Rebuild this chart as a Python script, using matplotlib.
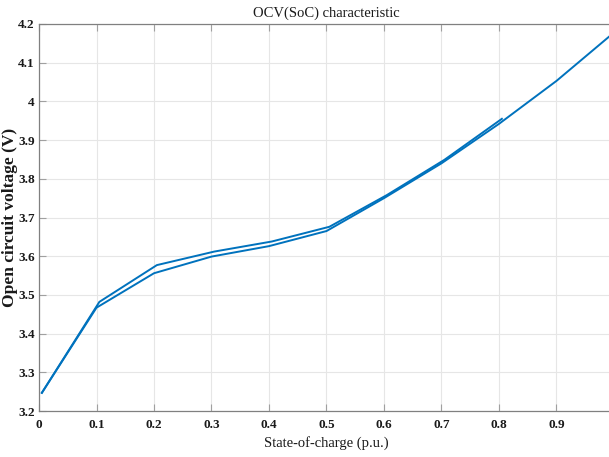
import matplotlib.pyplot as plt
import numpy as np

# Two OCV(SoC) branches
SOC_UPPER = [0.005, 0.105, 0.205, 0.305, 0.405, 0.505, 0.605, 0.705, 0.805]
OCV_UPPER = [3.247, 3.482, 3.577, 3.612, 3.638, 3.676, 3.758, 3.849, 3.955]

SOC_LOWER = [0.005, 0.1, 0.2, 0.3, 0.4, 0.5, 0.6, 0.7, 0.8, 0.9, 1.0]
OCV_LOWER = [3.247, 3.467, 3.556, 3.599, 3.626, 3.665, 3.750, 3.840, 3.942, 4.053, 4.178]

X_TICKS = [0, 0.1, 0.2, 0.3, 0.4, 0.5, 0.6, 0.7, 0.8, 0.9]
X_TICK_LABELS = ["0", "0.1", "0.2", "0.3", "0.4", "0.5", "0.6", "0.7", "0.8", "0.9"]
Y_TICKS = [3.2, 3.3, 3.4, 3.5, 3.6, 3.7, 3.8, 3.9, 4.0, 4.1, 4.2]
Y_TICK_LABELS = ["3.2", "3.3", "3.4", "3.5", "3.6", "3.7", "3.8", "3.9", "4", "4.1", "4.2"]

LINE_COLOR = "#0072BD"
FONT = "Liberation Serif"

plt.rcParams["font.family"] = FONT

fig = plt.figure(figsize=(6.09, 4.57), dpi=100)
ax = fig.add_axes([39 / 609, 46 / 457, 575 / 609, 387 / 457])

ax.plot(SOC_UPPER, OCV_UPPER, color=LINE_COLOR, linewidth=1.4)
ax.plot(SOC_LOWER, OCV_LOWER, color=LINE_COLOR, linewidth=1.4)

ax.set_xlim(0, 1)
ax.set_ylim(3.2, 4.2)

ax.set_xticks(X_TICKS)
ax.set_xticklabels(X_TICK_LABELS, fontsize=9.5, fontweight="bold")
ax.set_yticks(Y_TICKS)
ax.set_yticklabels(Y_TICK_LABELS, fontsize=9.5, fontweight="bold")

ax.tick_params(
    direction="in",
    length=5,
    width=0.8,
    color="#a0a0a0",
    labelcolor="#1a1a1a",
    top=True,
    right=False,
)
ax.tick_params(axis="x", pad=6)
ax.tick_params(axis="y", pad=3)

ax.grid(True, color="#e6e6e6", linewidth=0.8)
ax.set_axisbelow(True)

for side in ["left", "bottom", "top"]:
    ax.spines[side].set_color("#808080")
    ax.spines[side].set_linewidth(0.9)
ax.spines["right"].set_visible(False)

ax.set_title("OCV(SoC) characteristic", fontsize=10.5, color="#1a1a1a", pad=5)
ax.set_xlabel("State-of-charge (p.u.)", fontsize=10.5, color="#1a1a1a")
ax.xaxis.set_label_coords(0.5, -0.066)
ax.set_ylabel(
    "Open circuit voltage (V)",
    fontsize=12.5,
    fontweight="bold",
    color="#1a1a1a",
)
ax.yaxis.set_label_coords(-0.036, 0.5)

fig.savefig("out.png", dpi=100)
